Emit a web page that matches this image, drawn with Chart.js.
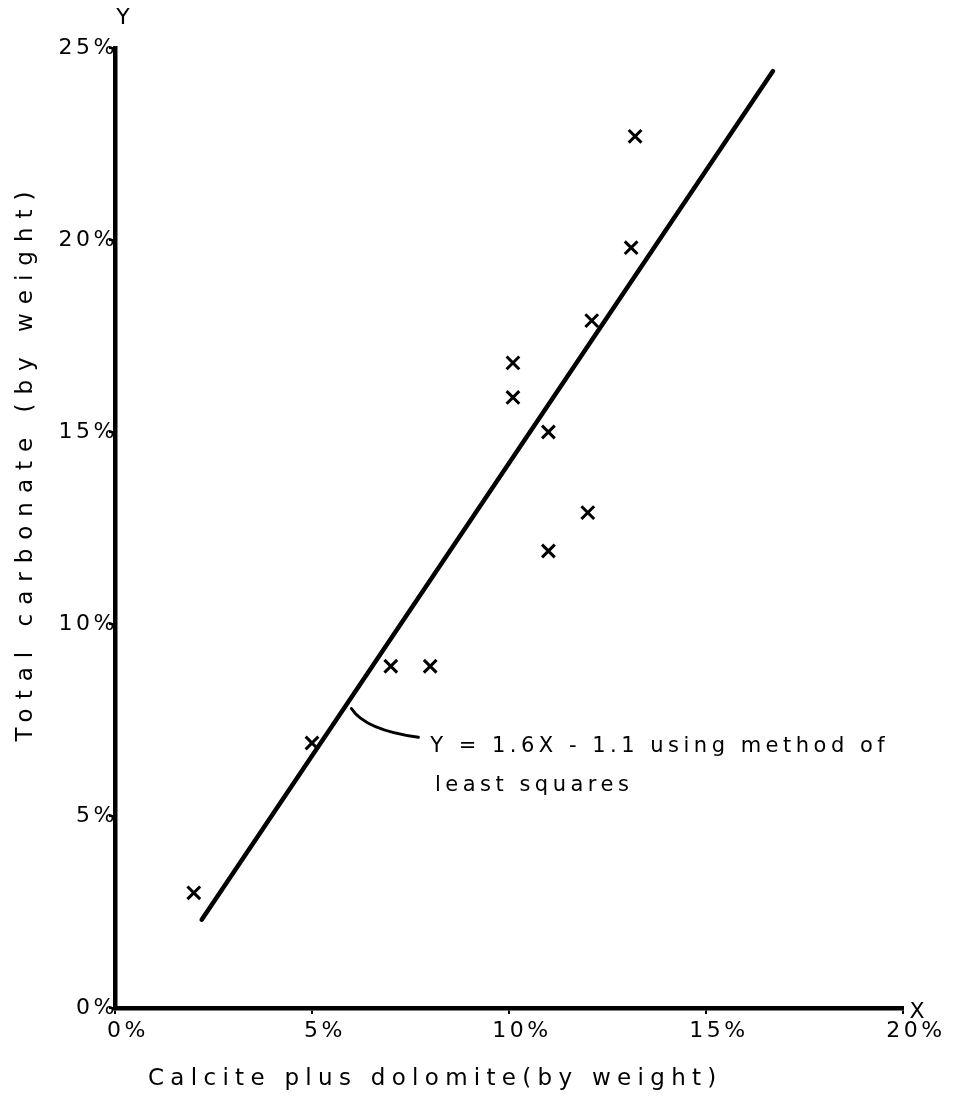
<!DOCTYPE html>
<html>
<head>
<script src="https://cdn.jsdelivr.net/npm/chart.js"></script>
<style>
  body { margin: 0; background: #fff; }
</style>
</head>
<body>
<canvas id="myChart" width="954" height="1105"></canvas>
<script>
// samples (calcite + dolomite vs total carbonate, % by weight)
var samplesX = [2, 5, 7, 8, 10.1, 10.1, 11, 11, 12.1, 12, 13.1, 13.2];
var samplesY = [3, 6.9, 8.9, 8.9, 16.8, 15.9, 15, 11.9, 17.9, 12.9, 19.8, 22.7];
// fitted line as drawn (ends)
var fitX = [2.2, 16.7];
var fitY = [2.3, 24.4];
var xTicks = [0, 5, 10, 15, 20];
var yTicks = [0, 5, 10, 15, 20, 25];
var xTitle = 'Calcite plus dolomite(by weight)';
var yTitle = 'Total carbonate (by weight)';
var noteLines = ['Y = 1.6X - 1.1 using method of', 'least squares'];

var FONT = '"DejaVu Sans", sans-serif';

function toPoints(xs, ys) {
  return xs.map(function (x, i) { return { x: x, y: ys[i] }; });
}

// titles, axis letters and the least squares note
var lettering = {
  id: 'lettering',
  beforeDraw: function (chart) {
    chart.ctx.letterSpacing = '3.5px';
  },
  afterDraw: function (chart) {
    var ctx = chart.ctx;
    var sx = chart.scales.x, sy = chart.scales.y;
    ctx.save();
    ctx.fillStyle = '#000';
    ctx.strokeStyle = '#000';

    // x title
    ctx.font = '23px ' + FONT;
    ctx.letterSpacing = '6.3px';
    ctx.textAlign = 'left';
    ctx.textBaseline = 'alphabetic';
    ctx.fillText(xTitle, 148, 1085);

    // y title
    ctx.save();
    ctx.translate(32, 462);
    ctx.rotate(-Math.PI / 2);
    ctx.textAlign = 'center';
    ctx.letterSpacing = '9px';
    ctx.fillText(yTitle, 0, 0);
    ctx.restore();

    // axis letters
    ctx.letterSpacing = '0px';
    ctx.font = '22px ' + FONT;
    ctx.textAlign = 'center';
    ctx.textBaseline = 'middle';
    ctx.fillText('X', sx.right + 14, sy.bottom + 4);
    ctx.fillText('Y', sx.left + 8, 18);

    // leader curve from the fitted line to the note
    ctx.lineWidth = 3;
    ctx.lineCap = 'round';
    ctx.beginPath();
    ctx.moveTo(sx.getPixelForValue(6.0), sy.getPixelForValue(7.8));
    ctx.quadraticCurveTo(sx.getPixelForValue(6.35), sy.getPixelForValue(7.24),
                         sx.getPixelForValue(7.7), sy.getPixelForValue(7.05));
    ctx.stroke();

    // note text
    ctx.font = '21px ' + FONT;
    ctx.letterSpacing = '4.5px';
    ctx.textAlign = 'left';
    ctx.textBaseline = 'alphabetic';
    ctx.fillText(noteLines[0], sx.getPixelForValue(8.0), sy.getPixelForValue(6.67));
    ctx.fillText(noteLines[1], sx.getPixelForValue(8.12), sy.getPixelForValue(5.65));
    ctx.restore();
  }
};

var ctx = document.getElementById('myChart').getContext('2d');
var myChart = new Chart(ctx, {
  type: 'scatter',
  data: {
    datasets: [{
      label: 'Samples',
      data: toPoints(samplesX, samplesY),
      pointStyle: 'crossRot',
      pointRadius: 9,
      pointBorderWidth: 3,
      borderColor: '#000',
      backgroundColor: '#000'
    }, {
      label: 'Least squares',
      type: 'line',
      data: toPoints(fitX, fitY),
      borderColor: '#000',
      borderWidth: 4.5,
      borderCapStyle: 'round',
      pointRadius: 0,
      fill: false
    }]
  },
  options: {
    responsive: false,
    animation: false,
    devicePixelRatio: 1,
    layout: { padding: { top: 48, right: 51, left: 0, bottom: 0 } },
    plugins: {
      legend: { display: false },
      tooltip: { enabled: false }
    },
    scales: {
      x: {
        type: 'linear',
        min: 0,
        max: 20,
        afterBuildTicks: function (scale) {
          scale.ticks = xTicks.map(function (v) { return { value: v }; });
        },
        afterFit: function (scale) { scale.height = 97; },
        ticks: {
          callback: function (v) { return v + '%'; },
          color: '#000',
          font: { family: FONT, size: 22 },
          labelOffset: 13,
          padding: 4,
          maxRotation: 0
        },
        grid: {
          drawOnChartArea: false,
          color: '#000',
          lineWidth: 2,
          tickLength: 6
        },
        border: { color: '#000', width: 4.5 }
      },
      y: {
        type: 'linear',
        min: 0,
        max: 25,
        afterBuildTicks: function (scale) {
          scale.ticks = yTicks.map(function (v) { return { value: v }; });
        },
        afterFit: function (scale) { scale.width = 115; },
        ticks: {
          callback: function (v) { return v + '%'; },
          color: '#000',
          font: { family: FONT, size: 22 },
          padding: -9
        },
        grid: {
          drawOnChartArea: false,
          color: '#000',
          lineWidth: 2,
          tickLength: 6
        },
        border: { color: '#000', width: 4.5 }
      }
    }
  },
  plugins: [lettering]
});
</script>
</body>
</html>
